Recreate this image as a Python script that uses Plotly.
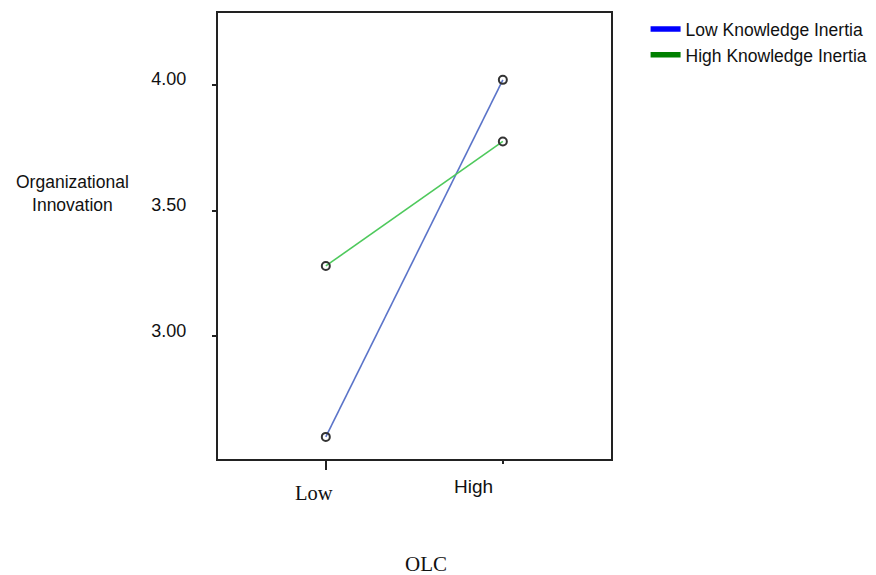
import plotly.graph_objects as go

categories = ["Low", "High"]
low_ki = [2.60, 4.02]
high_ki = [3.28, 3.775]
y_ticks = [3.0, 3.5, 4.0]
y_tick_labels = ["3.00", "3.50", "4.00"]
series_names = ["Low Knowledge Inertia", "High Knowledge Inertia"]

xpos = list(range(len(categories)))

fig = go.Figure()
fig.add_trace(go.Scatter(x=xpos, y=low_ki, mode="lines+markers", showlegend=False,
                         line=dict(color="#5b74c9", width=1.6),
                         marker=dict(symbol="circle-open", size=8, color="#333", line=dict(width=2, color="#333"))))
fig.add_trace(go.Scatter(x=xpos, y=high_ki, mode="lines+markers", showlegend=False,
                         line=dict(color="#4ec95c", width=1.6),
                         marker=dict(symbol="circle-open", size=8, color="#333", line=dict(width=2, color="#333"))))
fig.add_trace(go.Scatter(x=[None], y=[None], mode="lines", name=series_names[0],
                         line=dict(color="#0000ff", width=5.5)))
fig.add_trace(go.Scatter(x=[None], y=[None], mode="lines", name=series_names[1],
                         line=dict(color="#008000", width=5.5)))

fig.update_layout(
    width=868, height=567,
    margin=dict(l=210, r=264, t=3, b=116),
    plot_bgcolor="white", paper_bgcolor="white",
    font=dict(family="Liberation Sans, Arial", size=18, color="#111"),
    legend=dict(x=1.088, y=1.004, xanchor="left", yanchor="top",
                bgcolor="rgba(0,0,0,0)",
                font=dict(size=17.5, color="#111"), tracegroupgap=0, itemwidth=30),
)
fig.update_xaxes(range=[-0.609, 1.611], tickvals=[0], ticktext=[""],
                 showgrid=False, zeroline=False, showline=True, linewidth=2, linecolor="#222",
                 mirror=True, ticks="outside", ticklen=9, tickwidth=1.5, tickcolor="#222",
                 minor=dict(tickvals=[1], ticks="outside", ticklen=3, tickwidth=1.5, tickcolor="#222"))
fig.update_yaxes(range=[2.512, 4.286], tickvals=y_ticks, ticktext=y_tick_labels,
                 showgrid=False, zeroline=False, showline=True, linewidth=2, linecolor="#222",
                 mirror=True, ticks="outside", ticklen=4, tickwidth=1.5, tickcolor="#222",
                 ticklabelstandoff=22, ticklabelshift=-6, tickfont=dict(size=18, color="#111"))

fig.add_annotation(x=0, y=0, xref="x", yref="paper", xanchor="center", yanchor="middle",
                   xshift=-12, yshift=-34, text="Low", showarrow=False,
                   font=dict(family="Liberation Serif, Times New Roman", size=20.5, color="#111"))
fig.add_annotation(x=1, y=0, xref="x", yref="paper", xanchor="center", yanchor="middle",
                   xshift=-29.5, yshift=-27, text="High", showarrow=False,
                   font=dict(family="Liberation Sans, Arial", size=19, color="#111"))
fig.add_annotation(x=0.5305, y=0, xref="paper", yref="paper", xanchor="center", yanchor="middle",
                   yshift=-105, text="OLC", showarrow=False,
                   font=dict(family="Liberation Serif, Times New Roman", size=21, color="#111"))
fig.add_annotation(x=-0.3706, y=0.595, xref="paper", yref="paper", xanchor="center", yanchor="middle",
                   text="Organizational<br>Innovation",
                   showarrow=False, font=dict(size=17.5, color="#111"))

fig.write_html("out.html")
